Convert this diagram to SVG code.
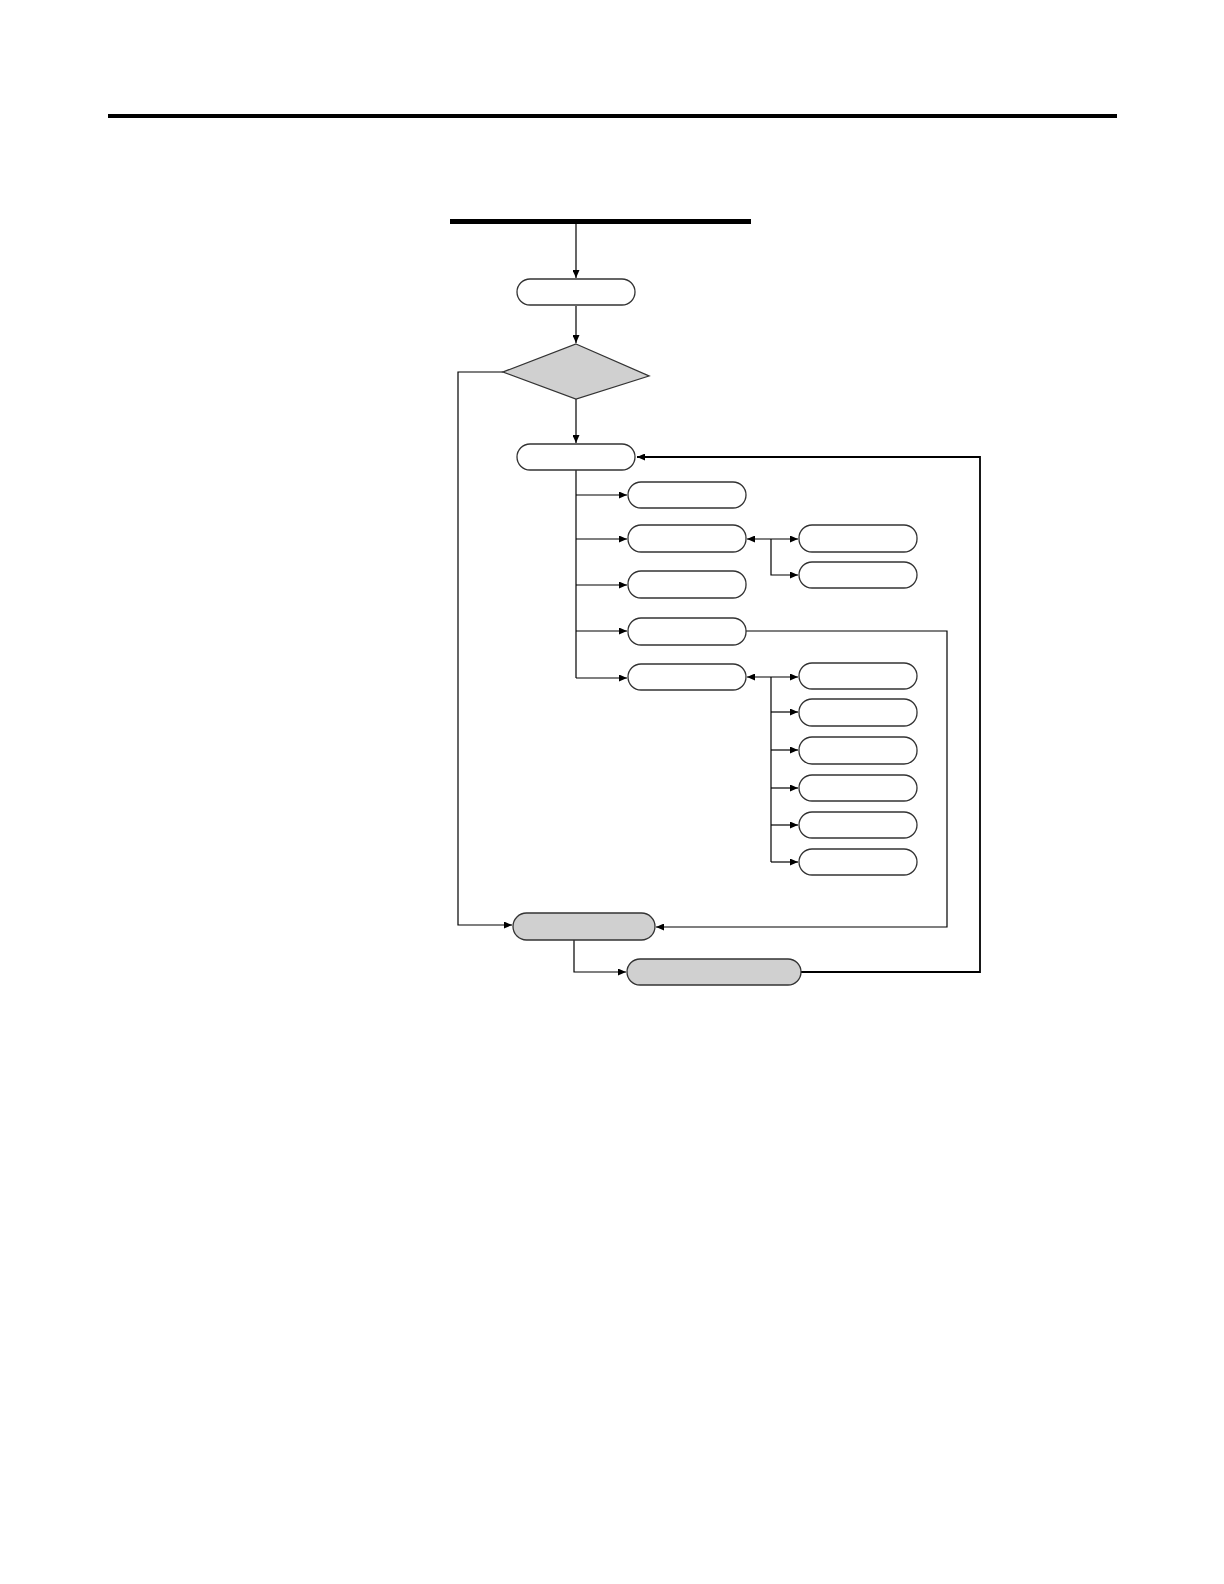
<svg xmlns="http://www.w3.org/2000/svg" width="1224" height="1584" viewBox="0 0 1224 1584">
<style>
.pill{fill:#fff;stroke:#333;stroke-width:1.3}
.gray{fill:#d0d0d0;stroke:#333;stroke-width:1.3}
.con{fill:none;stroke:#000;stroke-width:1.2}
.thick{fill:none;stroke:#000;stroke-width:1.8}
</style>
<defs>
<marker id="ah" markerUnits="userSpaceOnUse" markerWidth="9" markerHeight="7" refX="8" refY="3.5" orient="auto-start-reverse">
<path d="M0,0 L8,3.5 L0,7 Z" fill="#000"/>
</marker>
</defs>
<rect x="108" y="114" width="1009" height="4" fill="#000"/>
<rect x="450" y="219" width="301" height="5" fill="#000"/>
<g id="connectors">
<line class="con" x1="576" y1="224" x2="576" y2="278" marker-end="url(#ah)"/>
<line class="con" x1="576" y1="306" x2="576" y2="343" marker-end="url(#ah)"/>
<line class="con" x1="576" y1="399" x2="576" y2="443" marker-end="url(#ah)"/>
<polyline class="con" points="503,372 458,372 458,925 512,925" marker-end="url(#ah)"/>
<line class="con" x1="576" y1="470" x2="576" y2="678"/>
<line class="con" x1="576" y1="495" x2="627" y2="495" marker-end="url(#ah)"/>
<line class="con" x1="576" y1="539" x2="627" y2="539" marker-end="url(#ah)"/>
<line class="con" x1="576" y1="585" x2="627" y2="585" marker-end="url(#ah)"/>
<line class="con" x1="576" y1="631" x2="627" y2="631" marker-end="url(#ah)"/>
<line class="con" x1="576" y1="678" x2="627" y2="678" marker-end="url(#ah)"/>
<line class="con" x1="747" y1="539" x2="798" y2="539" marker-start="url(#ah)" marker-end="url(#ah)"/>
<polyline class="con" points="771,539 771,575 798,575" marker-end="url(#ah)"/>
<line class="con" x1="747" y1="677" x2="798" y2="677" marker-start="url(#ah)" marker-end="url(#ah)"/>
<line class="con" x1="771" y1="677" x2="771" y2="862"/>
<line class="con" x1="771" y1="712" x2="798" y2="712" marker-end="url(#ah)"/>
<line class="con" x1="771" y1="750" x2="798" y2="750" marker-end="url(#ah)"/>
<line class="con" x1="771" y1="788" x2="798" y2="788" marker-end="url(#ah)"/>
<line class="con" x1="771" y1="825" x2="798" y2="825" marker-end="url(#ah)"/>
<line class="con" x1="771" y1="862" x2="798" y2="862" marker-end="url(#ah)"/>
<polyline class="con" points="746,631 947,631 947,927 656,927" marker-end="url(#ah)"/>
<polyline class="con" points="574,940 574,972 626,972" marker-end="url(#ah)"/>
<polyline class="thick" points="801,972 980,972 980,457 637,457" marker-end="url(#ah)"/>
</g>
<g id="start"><rect class="pill" x="517" y="279" width="118" height="26" rx="13"/></g>
<g id="decision"><polygon class="gray" points="576,344 649,376 576,399 503,372"/></g>
<g id="menu"><rect class="pill" x="517" y="444" width="118" height="26" rx="13"/></g>
<g id="opt1"><rect class="pill" x="628" y="482" width="118" height="26" rx="13"/></g>
<g id="opt2"><rect class="pill" x="628" y="525" width="118" height="27" rx="13"/></g>
<g id="opt3"><rect class="pill" x="628" y="571" width="118" height="27" rx="13"/></g>
<g id="opt4"><rect class="pill" x="628" y="618" width="118" height="27" rx="13"/></g>
<g id="opt5"><rect class="pill" x="628" y="664" width="118" height="26" rx="13"/></g>
<g id="sub2a"><rect class="pill" x="799" y="525" width="118" height="27" rx="13"/></g>
<g id="sub2b"><rect class="pill" x="799" y="562" width="118" height="26" rx="13"/></g>
<g id="sub5a"><rect class="pill" x="799" y="663" width="118" height="26" rx="13"/></g>
<g id="sub5b"><rect class="pill" x="799" y="699" width="118" height="27" rx="13"/></g>
<g id="sub5c"><rect class="pill" x="799" y="737" width="118" height="27" rx="13"/></g>
<g id="sub5d"><rect class="pill" x="799" y="775" width="118" height="26" rx="13"/></g>
<g id="sub5e"><rect class="pill" x="799" y="812" width="118" height="26" rx="13"/></g>
<g id="sub5f"><rect class="pill" x="799" y="849" width="118" height="26" rx="13"/></g>
<g id="end1"><rect class="gray" x="513" y="913" width="142" height="27" rx="13.5"/></g>
<g id="end2"><rect class="gray" x="627" y="959" width="174" height="26" rx="13"/></g>
</svg>
